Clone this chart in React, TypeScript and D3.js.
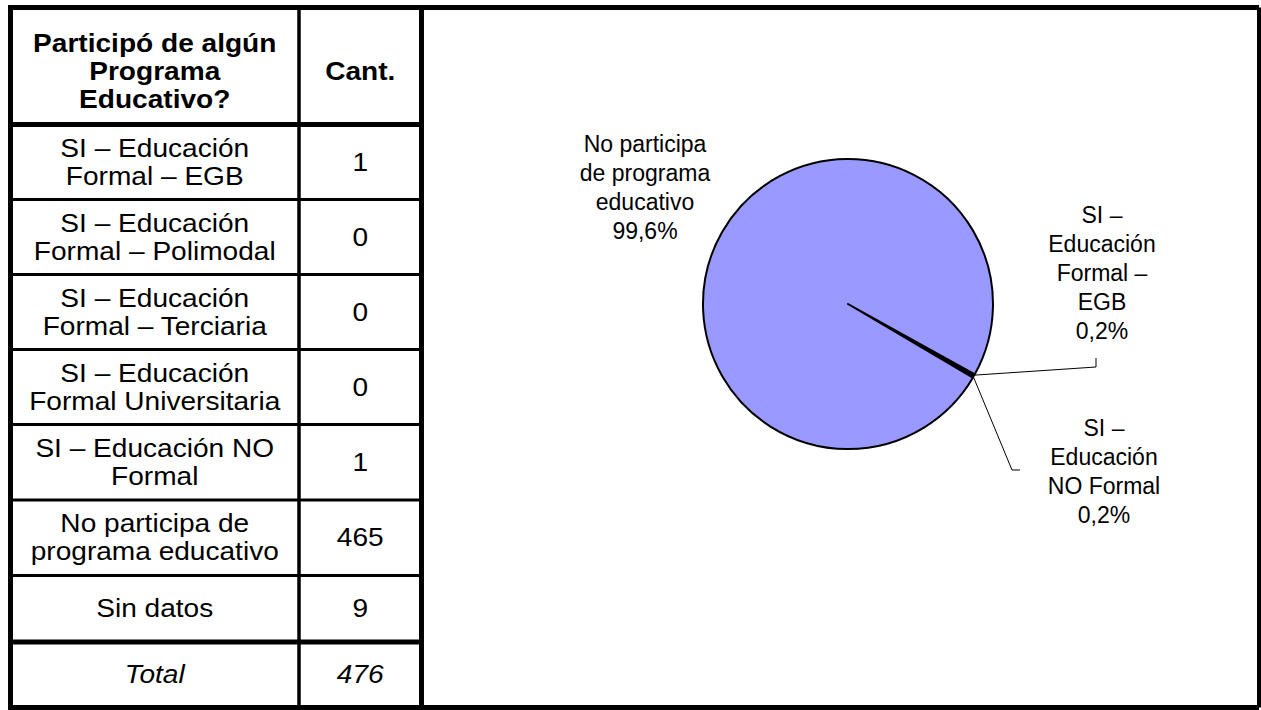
import React from "react";
import * as d3 from "d3";

// ---- data ----
const headerLines = ["Participó de algún", "Programa", "Educativo?"];
const countHeader = "Cant.";
const rowLabelLines: string[][] = [
  ["SI – Educación", "Formal – EGB"],
  ["SI – Educación", "Formal – Polimodal"],
  ["SI – Educación", "Formal – Terciaria"],
  ["SI – Educación", "Formal Universitaria"],
  ["SI – Educación NO", "Formal"],
  ["No participa de", "programa educativo"],
  ["Sin datos"],
];
const counts = [1, 0, 0, 0, 1, 465, 9];
const totalLabel = "Total";
const totalCount = 476;

const pieCategories = [
  "SI – Educación Formal – EGB",
  "SI – Educación Formal – Polimodal",
  "SI – Educación Formal – Terciaria",
  "SI – Educación Formal Universitaria",
  "SI – Educación NO Formal",
  "No participa de programa educativo",
];
const pieValues = [1, 0, 0, 0, 1, 465];
const pieLabelLines: string[][] = [
  ["SI –", "Educación", "Formal –", "EGB"],
  [],
  [],
  [],
  ["SI –", "Educación", "NO Formal"],
  ["No participa", "de programa", "educativo"],
];
const pieColors = ["#000000", "#000000", "#000000", "#000000", "#000000", "#9999FF"];

const W = 1261;
const H = 710;
const FONT = "'Liberation Sans', Arial, sans-serif";

export default function App() {
  // table geometry
  const xL = 10.5, xDiv = 299, xR = 421.5, xF = 1259;
  const yT = 7.5, yHead = 124.5, yB = 707.5;
  const rowTops = [yHead, 199.5, 274.5, 349.5, 424.5, 500, 575.5, 642];
  const sx = 1.08;
  const fs = 26;
  const lh = 28;
  const c1 = (xL + xDiv) / 2;
  const c2 = (xDiv + xR) / 2;

  const cellText = (lines: string[], cx: number, cy: number, opts: any = {}) =>
    lines.map((t, i) => (
      <text
        key={i}
        transform={`translate(${cx},${cy + (i - (lines.length - 1) / 2) * lh}) scale(${sx},1)`}
        textAnchor="middle"
        dominantBaseline="central"
        fontSize={fs}
        fontFamily={FONT}
        fontWeight={opts.bold ? "bold" : "normal"}
        fontStyle={opts.italic ? "italic" : "normal"}
        fill="#000"
      >
        {t}
      </text>
    ));

  // pie
  const cx = 848, cy = 304, r = 145;
  const start = (119 * Math.PI) / 180;
  const pie = d3
    .pie<number>()
    .sort(null)
    .value((d) => d)
    .startAngle(start)
    .endAngle(start + 2 * Math.PI);
  const arcs = pie(pieValues);
  const arcGen = d3.arc<d3.PieArcDatum<number>>().innerRadius(0).outerRadius(r);
  const sum = d3.sum(pieValues);
  const pct = (v: number) => ((v / sum) * 100).toFixed(1).replace(".", ",") + "%";

  const labelPos: Record<number, { x: number; y: number; lead?: [number, number][] }> = {
    0: { x: 1102, y: 215, lead: [[1096, 367], [1096, 358]] },
    4: { x: 1104, y: 428, lead: [[1012, 470], [1020, 470]] },
    5: { x: 645, y: 144 },
  };
  const plh = 29;
  const headCy = 71;

  return (
    <svg
      width={W}
      height={H}
      style={{ position: "absolute", left: 0, top: 0, background: "#fff" }}
    >
      <rect x={0} y={0} width={W} height={H} fill="#fff" />

      {/* table texts */}
      {cellText(headerLines, c1, headCy, { bold: true })}
      {cellText([countHeader], c2, headCy, { bold: true })}
      {rowLabelLines.map((lines, i) => (
        <g key={i}>
          {cellText(lines, c1, (rowTops[i] + rowTops[i + 1]) / 2)}
          {cellText([String(counts[i])], c2, (rowTops[i] + rowTops[i + 1]) / 2)}
        </g>
      ))}
      {cellText([totalLabel], c1, (642 + yB) / 2, { italic: true })}
      {cellText([String(totalCount)], c2, (642 + yB) / 2, { italic: true })}

      {/* table grid */}
      <g stroke="#000" fill="none">
        {rowTops.slice(1, 7).map((y, i) => (
          <line key={i} x1={xL} x2={xR} y1={y} y2={y} strokeWidth={3} />
        ))}
        <line x1={xL} x2={xR} y1={yHead} y2={yHead} strokeWidth={5} />
        <line x1={xL} x2={xR} y1={642} y2={642} strokeWidth={5} />
        <line x1={xDiv} x2={xDiv} y1={yT} y2={yB} strokeWidth={3.5} />
        <line x1={xL} x2={xL} y1={yT - 2.5} y2={yB + 2.5} strokeWidth={5} />
        <line x1={xR} x2={xR} y1={yT} y2={yB} strokeWidth={5} />
        <line x1={xL} x2={xF} y1={yT} y2={yT} strokeWidth={5} />
        <line x1={xL} x2={xF} y1={yB} y2={yB} strokeWidth={5} />
        <line x1={xF} x2={xF} y1={yT} y2={yB} strokeWidth={4} />
      </g>

      {/* pie */}
      <g transform={`translate(${cx},${cy})`}>
        {arcs.map((a, i) =>
          a.value > 0 ? (
            <path
              key={i}
              d={arcGen(a) || ""}
              fill={pieColors[i]}
              stroke="#000"
              strokeWidth={i === 5 ? 2 : 1.5}
              strokeLinejoin="round"
            />
          ) : null
        )}
      </g>

      {/* leader lines */}
      {arcs.map((a, i) => {
        const lp = labelPos[i];
        if (!lp || !lp.lead || a.value === 0) return null;
        const mid = (a.startAngle + a.endAngle) / 2;
        const ex = cx + r * Math.sin(mid);
        const ey = cy - r * Math.cos(mid);
        const pts: [number, number][] = [[ex, ey], ...lp.lead];
        return (
          <path
            key={i}
            d={d3.line()(pts) || ""}
            fill="none"
            stroke="#000"
            strokeWidth={1}
          />
        );
      })}

      {/* pie labels */}
      {arcs.map((a, i) => {
        const lp = labelPos[i];
        if (!lp || a.value === 0) return null;
        const lines = [...pieLabelLines[i], pct(a.value)];
        return (
          <g key={i}>
            {lines.map((t, j) => (
              <text
                key={j}
                x={lp.x}
                y={lp.y + j * plh}
                textAnchor="middle"
                dominantBaseline="central"
                fontSize={23}
                fontFamily={FONT}
                fill="#000"
              >
                {t}
              </text>
            ))}
          </g>
        );
      })}
    </svg>
  );
}
